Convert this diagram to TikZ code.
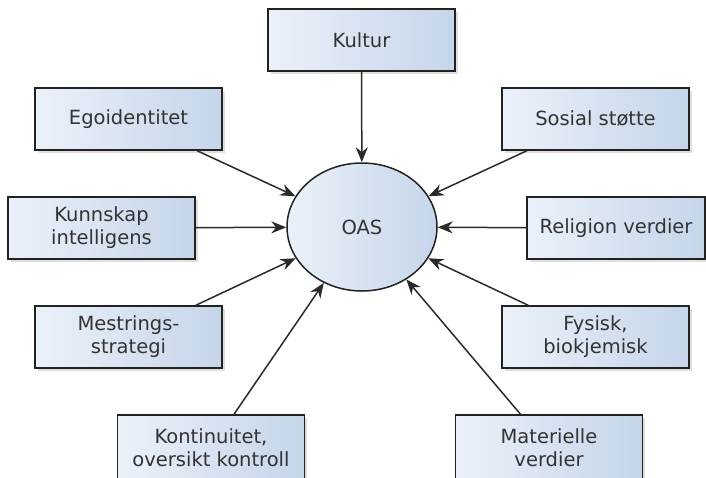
\documentclass[tikz,border=0pt]{standalone}
\usepackage{fontspec}
\setmainfont{DejaVu Sans}
\usetikzlibrary{shadows,arrows.meta,shapes.geometric}
\definecolor{boxL}{HTML}{EBF1F9}
\definecolor{boxR}{HTML}{C5D5EA}
\definecolor{edgec}{HTML}{222222}
\definecolor{txtc}{HTML}{333333}
\definecolor{linec}{HTML}{2A2A2A}
\begin{document}
\begin{tikzpicture}[x=1pt,y=-1pt,
  box/.style={draw=edgec, line width=1.5pt, left color=boxL, right color=boxR,
    minimum width=187pt, minimum height=62pt, inner sep=0pt, align=center,
    text=txtc, font=\fontsize{19.5}{23}\selectfont,
    drop shadow={opacity=0.25, shadow xshift=2.5pt, shadow yshift=-2.5pt}},
  hub/.style={ellipse, draw=edgec, line width=1.5pt, left color=boxL, right color=boxR,
    minimum width=150pt, minimum height=128pt, inner sep=0pt,
    text=txtc, font=\fontsize{19.5}{23}\selectfont},
  conn/.style={draw=linec, line width=1.5pt, -{Stealth[length=15pt,width=12pt]}}
]
\useasboundingbox (0,0) rectangle (706,477);
\node[box] (kultur) at (361.5,40) {Kultur};
\node[box] (ego) at (128.5,119) {Egoidentitet};
\node[box] (sos) at (595.5,119) {Sosial støtte};
\node[box] (kun) at (101.5,228) {Kunnskap\\intelligens};
\node[box, minimum width=178pt] (rel) at (616,228) {Religion verdier};
\node[box] (mes) at (128.5,337) {Mestrings-\\strategi};
\node[box] (fys) at (595.5,337) {Fysisk,\\biokjemisk};
\node[box, minimum height=66pt] (kon) at (211,448) {Kontinuitet,\\oversikt kontroll};
\node[box, minimum height=66pt] (mat) at (549,448) {Materielle\\verdier};
\node[hub] (oas) at (362,227) {OAS};
\foreach \n in {kultur,ego,sos,kun,rel,mes,fys,kon,mat}
  \draw[conn] (\n) -- (oas);
\end{tikzpicture}
\end{document}
